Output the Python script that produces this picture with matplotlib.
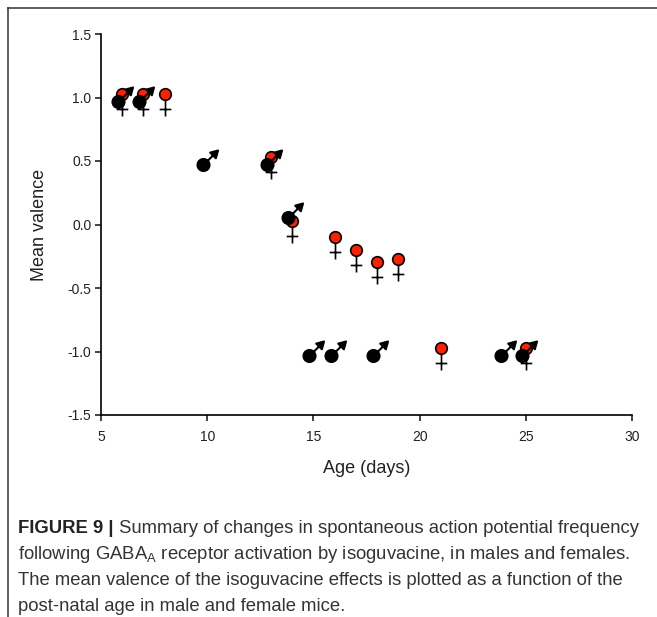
import matplotlib
matplotlib.use('Agg')
import matplotlib.pyplot as plt
from matplotlib.path import Path
from matplotlib.lines import Line2D
from matplotlib import font_manager
import numpy as np


##########################
# data
male_age = [6, 7, 10, 13, 14, 15, 16, 18, 24, 25]
male_val = [1.0, 1.0, 0.5, 0.5, 0.08, -1.0, -1.0, -1.0, -1.0, -1.0]

female_age = [6, 7, 8, 13, 14, 16, 17, 18, 19, 21, 25]
female_val = [1.0, 1.0, 1.0, 0.5, 0.0, -0.13, -0.23, -0.33, -0.30, -1.0, -1.0]

x_ticks = [5, 10, 15, 20, 25, 30]
y_ticks = [-1.5, -1.0, -0.5, 0.0, 0.5, 1.0, 1.5]
y_ticklabels = ['-1.5', '-1.0', '-0.5', '0.0', '0.5', '1.0', '1.5']

caption_bold = 'FIGURE 9 |'
caption_lines = [
    ' Summary of changes in spontaneous action potential frequency',
    r'following GABA$_{\mathrm{A}}$ receptor activation by isoguvacine, in males and females.',
    'The mean valence of the isoguvacine effects is plotted as a function of the',
    'post-natal age in male and female mice.',
]
##########################

names = {f.name for f in font_manager.fontManager.ttflist}
cap_font = 'Liberation Sans Narrow' if 'Liberation Sans Narrow' in names else 'Liberation Sans'
plt.rcParams['font.family'] = ['Liberation Sans', 'DejaVu Sans']
plt.rcParams['mathtext.fontset'] = 'custom'
plt.rcParams['mathtext.rm'] = cap_font
plt.rcParams['mathtext.it'] = cap_font
plt.rcParams['mathtext.bf'] = cap_font + ':bold'


##########################
# sex symbols as marker paths, 1 unit = 1 pixel
BOX = 20
MS = 2 * BOX * 72 / 100


def sym_marker(parts):
    # lone MOVETO in the corner fixes the marker scale
    pad = Path([[BOX, BOX]], [Path.MOVETO])
    return Path.make_compound_path(pad, *parts)


def male_marker():
    c = np.array([-4.0, -3.5])
    u = np.array([1.0, 1.0]) / np.sqrt(2)
    n = np.array([-1.0, 1.0]) / np.sqrt(2)
    tip = c + 20.5 * u
    base = tip - 7 * u
    circ = Path.circle(c, 6)
    stem = Path([c + 5 * u, base + 1 * u], [Path.MOVETO, Path.LINETO])
    head = Path([tip, base + 4 * n, base - 4 * n, tip],
                [Path.MOVETO, Path.LINETO, Path.LINETO, Path.CLOSEPOLY])
    return sym_marker([circ, stem, head])


def female_marker():
    c = np.array([0.0, 4.0])
    r = 5.8
    circ = Path.circle(c, r)
    stem = Path([[0, c[1] - r], [0, -18]], [Path.MOVETO, Path.LINETO])
    bar = Path([[-5.8, -11], [5.8, -11]], [Path.MOVETO, Path.LINETO])
    return sym_marker([circ, stem, bar])


fig = plt.figure(figsize=(6.57, 6.17), dpi=100)
ax = fig.add_axes([101 / 657, 1 - 415 / 617, (632 - 101) / 657, (415 - 34) / 617])

ax.plot(female_age, female_val, ls='none', marker=female_marker(), ms=MS,
        mfc='#ff2000', mec='black', mew=1.2, clip_on=False)
ax.plot(male_age, male_val, ls='none', marker=male_marker(), ms=MS,
        mfc='black', mec='black', mew=1.5, clip_on=False)

ax.set_xlim(5, 30)
ax.set_ylim(-1.5, 1.5)
ax.set_xticks(x_ticks)
ax.set_yticks(y_ticks)
ax.set_yticklabels(y_ticklabels)
ax.spines['top'].set_visible(False)
ax.spines['right'].set_visible(False)
for s in ['left', 'bottom']:
    ax.spines[s].set_linewidth(1.2)
ax.tick_params(axis='both', direction='out', length=4, width=1.2, labelsize=10, colors='#222222')
ax.tick_params(axis='x', pad=7)
ax.tick_params(axis='y', pad=3)

ax.set_xlabel('Age (days)', fontsize=13, color='#222222', labelpad=11)
ax.set_ylabel('Mean valence', fontsize=13, color='#222222', labelpad=14)

# frame around figure + caption
fig.add_artist(Line2D([8 / 657, 8 / 657], [0, 1 - 8 / 617], color='#333333', lw=1.1))
fig.add_artist(Line2D([8 / 657, 1], [1 - 8 / 617, 1 - 8 / 617], color='#333333', lw=1.1))

# caption: fit the first line to its width in the reference
cap_size = 12.5
renderer = fig.canvas.get_renderer()
t_bold = fig.text(18 / 657, 1 - 533 / 617, caption_bold, fontsize=cap_size, fontweight='bold',
                  family=cap_font, color='#222222', va='baseline')
t_rest = fig.text(0, 1 - 533 / 617, caption_lines[0], fontsize=cap_size,
                  family=cap_font, color='#333333', va='baseline')
w = t_bold.get_window_extent(renderer).width + t_rest.get_window_extent(renderer).width
cap_size = cap_size * (645 - 18) / w
t_bold.set_fontsize(cap_size)
t_rest.set_fontsize(cap_size)
bb = t_bold.get_window_extent(renderer)
t_rest.set_x(bb.x1 / 657)

for i, line in enumerate(caption_lines[1:]):
    fig.text(18 / 657, 1 - (559 + 26 * i) / 617, line, fontsize=cap_size,
             family=cap_font, color='#333333', va='baseline')

fig.savefig('out.png', dpi=100)
